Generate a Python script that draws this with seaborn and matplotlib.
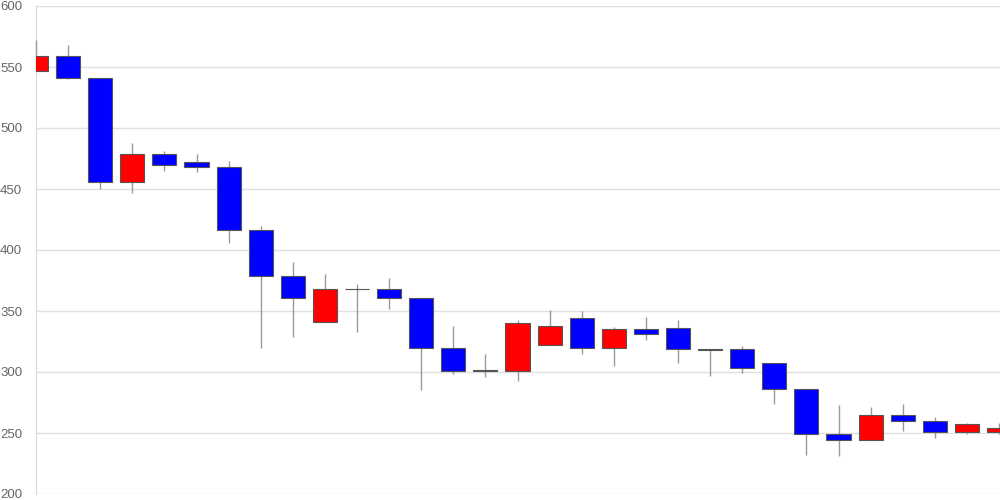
import seaborn as sns
import matplotlib.pyplot as plt
import numpy as np

# daily OHLC values
opens = [547, 559, 541, 456, 479, 472, 468, 416, 379, 341, 368, 368, 361, 320, 301, 301,
         322, 344, 320, 335, 336, 319, 319, 307, 286, 249, 244, 265, 260, 251, 251]
closes = [559, 541, 456, 479, 470, 468, 416, 379, 361, 368, 368, 361, 320, 301, 301, 340,
          338, 320, 335, 331, 319, 318, 303, 286, 249, 244, 265, 260, 251, 257, 254]
highs = [572, 568, 541, 488, 481, 479, 473, 420, 390, 380, 372, 377, 361, 338, 315, 343,
         351, 350, 337, 345, 343, 319, 321, 307, 286, 273, 271, 274, 263, 258, 258]
lows = [547, 540, 450, 447, 465, 464, 406, 320, 329, 341, 333, 352, 285, 298, 296, 293,
        322, 315, 305, 326, 307, 297, 299, 274, 232, 231, 244, 252, 246, 249, 249]
y_ticks = [200, 250, 300, 350, 400, 450, 500, 550, 600]

sns.set_style("white")
plt.rcParams["font.family"] = ["Liberation Sans", "DejaVu Sans"]
fig = plt.figure(figsize=(10, 5), dpi=100)
ax = fig.add_axes([0.036, 0.012, 0.964, 0.976])

x = np.arange(len(opens))
o = np.array(opens, dtype=float)
c = np.array(closes, dtype=float)
up = c > o
colors = np.where(up, "#ff0000", "#0000ff")
body_low = np.minimum(o, c)
body_h = np.maximum(np.abs(c - o), 0.4)

# wicks
ax.vlines(x, lows, highs, color="#999999", linewidth=1, zorder=2, clip_on=False)
# bodies
ax.bar(x, body_h, bottom=body_low, width=0.75, color=colors,
       edgecolor="#555555", linewidth=0.8, zorder=3)

ax.set_xlim(0, 30.03)
ax.set_ylim(200, 600)
ax.set_yticks(y_ticks)
ax.set_xticks([])
ax.grid(axis="y", color="#e0e0e0", linewidth=1, zorder=0)
ax.set_axisbelow(True)
ax.tick_params(axis="y", length=8, color="#e0e0e0", labelcolor="#666666",
               labelsize=9.5, pad=2)
for s in ["top", "right", "bottom"]:
    ax.spines[s].set_visible(False)
ax.spines["left"].set_color("#d9d9d9")
ax.spines["left"].set_zorder(1)

fig.savefig("out.png", dpi=100)
